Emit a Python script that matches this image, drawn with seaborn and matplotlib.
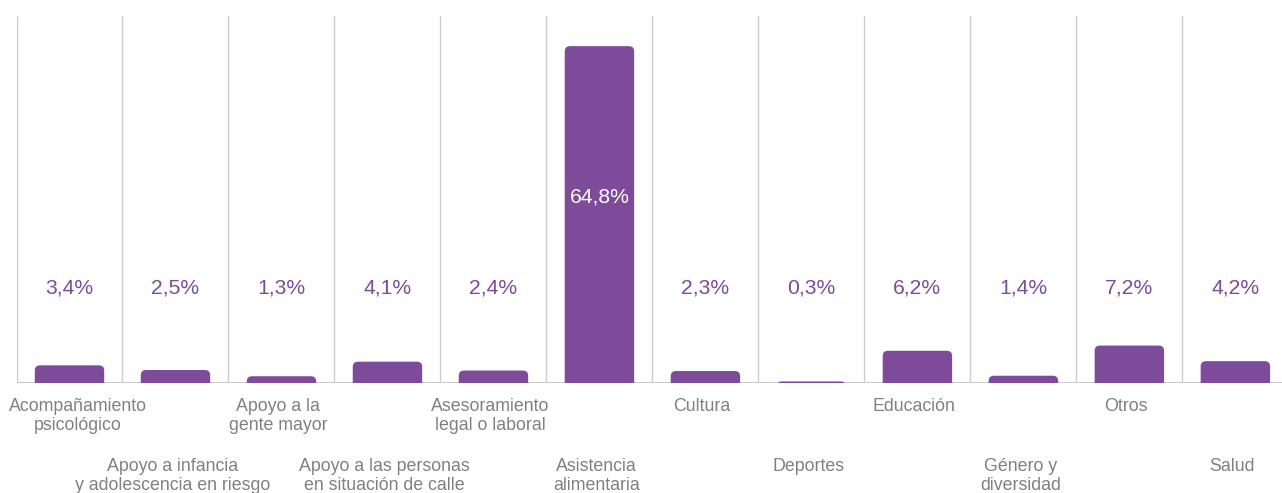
import matplotlib
matplotlib.use("Agg")
import matplotlib.pyplot as plt
import seaborn as sns
import pandas as pd
from matplotlib.patches import FancyBboxPatch

categories = ["Acompañamiento\npsicológico", "Apoyo a infancia\ny adolescencia en riesgo",
              "Apoyo a la\ngente mayor", "Apoyo a las personas\nen situación de calle",
              "Asesoramiento\nlegal o laboral", "Asistencia\nalimentaria", "Cultura",
              "Deportes", "Educación", "Género y\ndiversidad", "Otros", "Salud"]
values = [3.4, 2.5, 1.3, 4.1, 2.4, 64.8, 2.3, 0.3, 6.2, 1.4, 7.2, 4.2]
value_labels = ["3,4%", "2,5%", "1,3%", "4,1%", "2,4%", "64,8%", "2,3%", "0,3%",
                "6,2%", "1,4%", "7,2%", "4,2%"]

purple = "#7E4A9A"
gray_txt = "#808080"
line_col = "#cccccc"

sns.set_theme(style="white")
plt.rcParams["font.family"] = ["Liberation Sans", "DejaVu Sans"]

df = pd.DataFrame({"cat": categories, "val": values})

fig = plt.figure(figsize=(12.82, 4.93), dpi=100)
ax = fig.add_axes([16.5 / 1282, 1 - 383 / 493, (1282 - 16.5) / 1282, (383 - 16) / 493])

sns.barplot(data=df, x="cat", y="val", color=purple, width=0.655, ax=ax, saturation=1)

ymax = 70.6
ax.set_ylim(0, ymax)
ax.set_xlim(-0.5, 11.44)

# replace bars with rounded-top versions
for p in list(ax.patches):
    x0, w, h = p.get_x(), p.get_width(), p.get_height()
    p.set_visible(False)
    fb = FancyBboxPatch((x0, -2.0), w, h + 2.0,
                        boxstyle="round,pad=0,rounding_size=0.05",
                        mutation_aspect=20, facecolor=purple, edgecolor="none",
                        clip_on=True, zorder=3)
    ax.add_patch(fb)

# separators
for i in range(len(categories)):
    ax.axvline(i - 0.5, color=line_col, lw=1.0, zorder=1)
ax.axhline(0, color=line_col, lw=1.5, zorder=2)

for s in ax.spines.values():
    s.set_visible(False)
ax.set_xticks([])
ax.set_yticks([])
ax.set_xlabel("")
ax.set_ylabel("")

# value labels
for i, (v, lab) in enumerate(zip(values, value_labels)):
    if v > 30:
        ax.text(i, 35.8, lab, ha="center", va="center", color="white", fontsize=15.2, zorder=4)
    else:
        ax.text(i, 18.3, lab, ha="center", va="center", color=purple, fontsize=15.2, zorder=4)

# category labels in two staggered rows (first label nudged to stay inside the figure)
trans = ax.get_xaxis_transform()
for i, c in enumerate(categories):
    y = -15 / 367 if i % 2 == 0 else -75 / 367
    xpos = i + 0.08 if i == 0 else i - 0.03
    ax.text(xpos, y, c, ha="center", va="top", color=gray_txt, fontsize=12.8,
            linespacing=1.15, transform=trans, clip_on=False)

fig.savefig("out.png", dpi=100)
